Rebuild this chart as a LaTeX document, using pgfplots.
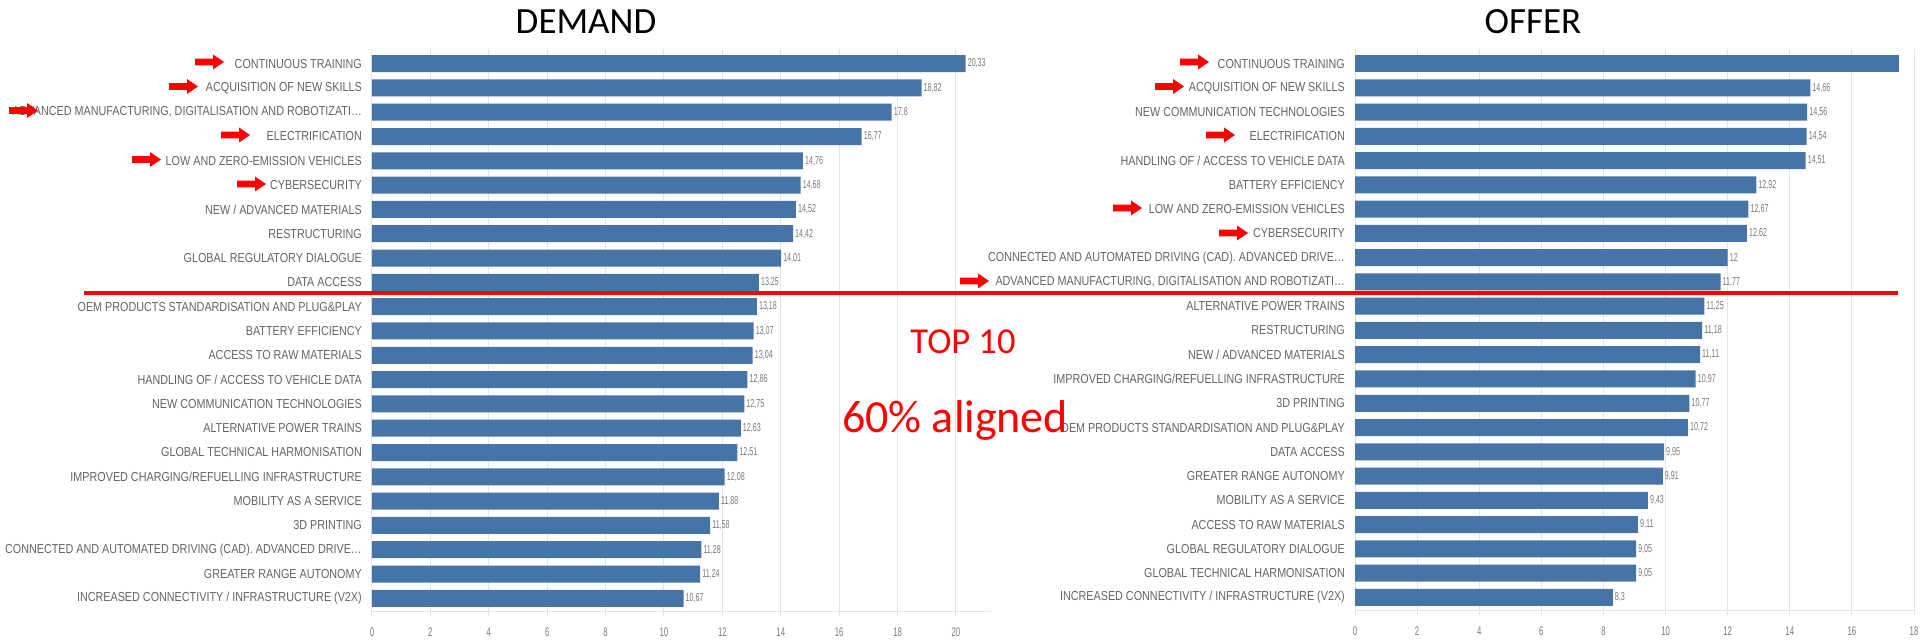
\documentclass[border=0pt]{standalone}
\usepackage{fontspec}
\setmainfont{Liberation Sans}[FakeStretch=0.83]
\newfontfamily\valfont{Liberation Sans}[FakeStretch=0.62]
\newfontfamily\titlefont{Carlito}
\usepackage{pgfplots}
\usepackage{pgfplotstable}
\pgfplotsset{compat=1.18}
\definecolor{barblue}{RGB}{70,116,166}
\definecolor{lblgray}{RGB}{100,100,100}
\definecolor{valgray}{RGB}{120,120,120}
\definecolor{gridgray}{RGB}{228,228,228}
\definecolor{ared}{RGB}{255,0,0}
\newcommand\myell{\char"2026\relax}

\pgfplotstableread{
x y
20.33 0
18.82 1
17.8 2
16.77 3
14.76 4
14.68 5
14.52 6
14.42 7
14.01 8
13.25 9
13.18 10
13.07 11
13.04 12
12.86 13
12.75 14
12.63 15
12.51 16
12.08 17
11.88 18
11.58 19
11.28 20
11.24 21
10.67 22
}\demand

\pgfplotstableread{
x y
14.66 1
14.56 2
14.54 3
14.51 4
12.92 5
12.67 6
12.62 7
12 8
11.77 9
11.25 10
11.18 11
11.11 12
10.97 13
10.77 14
10.72 15
9.95 16
9.91 17
9.43 18
9.11 19
9.05 20
9.05 21
8.3 22
}\offer

\pgfplotsset{mybars/.style={
  scale only axis, anchor=south west,
  xbar, bar width=17pt, bar shift=0pt,
  y dir=reverse, ymin=-0.6, ymax=22.52,
  ytick={0,1,2,3,4,5,6,7,8,9,10,11,12,13,14,15,16,17,18,19,20,21,22},
  axis x line*=bottom, axis y line*=left,
  y axis line style={draw=none},
  x axis line style={draw=gridgray, line width=1pt},
  xmajorgrids, grid style={draw=gridgray, line width=1pt},
  xmin=0,
  tick align=outside,
  ytick style={draw=none},
  xtick style={draw=gridgray, line width=1pt},
  major tick length=5pt,
  yticklabel style={font=\fontsize{13}{15}\selectfont, text=lblgray, inner xsep=0pt, xshift=-5pt},
  xticklabel style={font=\valfont\fontsize{12.5}{14}\selectfont, text=valgray, yshift=-8pt},
  /pgf/number format/assume math mode=true,
  /pgf/number format/use comma,
  point meta=x,
  nodes near coords style={font=\valfont\fontsize{11.5}{13}\selectfont, text=valgray, anchor=west, inner xsep=2pt},
}}

\newcommand\rarr[2]{\fill[ared] ({#1pt-29pt},{#2pt+3.4pt}) -- ({#1pt-11pt},{#2pt+3.4pt}) -- ({#1pt-11pt},{#2pt+7.5pt}) -- ({#1pt},{#2pt}) -- ({#1pt-11pt},{#2pt-7.5pt}) -- ({#1pt-11pt},{#2pt-3.4pt}) -- ({#1pt-29pt},{#2pt-3.4pt}) -- cycle;}

\begin{document}
\begin{tikzpicture}
\path[use as bounding box] (0pt,0pt) rectangle (1930pt,644pt);

\begin{axis}[mybars, at={(372pt,33pt)}, width=619pt, height=562pt, xmax=21.2,
  xtick={0,2,4,6,8,10,12,14,16,18,20},
  yticklabels={{CONTINUOUS TRAINING},{ACQUISITION OF NEW SKILLS},{ADVANCED MANUFACTURING, DIGITALISATION AND ROBOTIZATI\myell},{ELECTRIFICATION},{LOW AND ZERO-EMISSION VEHICLES},{CYBERSECURITY},{NEW / ADVANCED MATERIALS},{RESTRUCTURING},{GLOBAL REGULATORY DIALOGUE},{DATA ACCESS},{OEM PRODUCTS STANDARDISATION AND PLUG\&PLAY},{BATTERY EFFICIENCY},{ACCESS TO RAW MATERIALS},{HANDLING OF / ACCESS TO VEHICLE DATA},{NEW COMMUNICATION TECHNOLOGIES},{ALTERNATIVE POWER TRAINS},{GLOBAL TECHNICAL HARMONISATION},{IMPROVED CHARGING/REFUELLING INFRASTRUCTURE},{MOBILITY AS A SERVICE},{3D PRINTING},{CONNECTED AND AUTOMATED DRIVING (CAD). ADVANCED DRIVE\myell},{GREATER RANGE AUTONOMY},{INCREASED CONNECTIVITY / INFRASTRUCTURE (V2X)}},
]
\addplot[fill=barblue, draw=none, bar shift=0pt, nodes near coords] table[x=x,y=y] {\demand};
\end{axis}

\begin{axis}[mybars, at={(1355pt,34pt)}, width=559pt, height=561pt, xmax=18,
  xtick={0,2,4,6,8,10,12,14,16,18},
  yticklabels={{CONTINUOUS TRAINING},{ACQUISITION OF NEW SKILLS},{NEW COMMUNICATION TECHNOLOGIES},{ELECTRIFICATION},{HANDLING OF / ACCESS TO VEHICLE DATA},{BATTERY EFFICIENCY},{LOW AND ZERO-EMISSION VEHICLES},{CYBERSECURITY},{CONNECTED AND AUTOMATED DRIVING (CAD). ADVANCED DRIVE\myell},{ADVANCED MANUFACTURING, DIGITALISATION AND ROBOTIZATI\myell},{ALTERNATIVE POWER TRAINS},{RESTRUCTURING},{NEW / ADVANCED MATERIALS},{IMPROVED CHARGING/REFUELLING INFRASTRUCTURE},{3D PRINTING},{OEM PRODUCTS STANDARDISATION AND PLUG\&PLAY},{DATA ACCESS},{GREATER RANGE AUTONOMY},{MOBILITY AS A SERVICE},{ACCESS TO RAW MATERIALS},{GLOBAL REGULATORY DIALOGUE},{GLOBAL TECHNICAL HARMONISATION},{INCREASED CONNECTIVITY / INFRASTRUCTURE (V2X)}},
]
\addplot[fill=barblue, draw=none, bar shift=0pt] coordinates {(17.53,0)};
\addplot[fill=barblue, draw=none, bar shift=0pt, nodes near coords] table[x=x,y=y] {\offer};
\end{axis}

\node[font=\titlefont\fontsize{37}{44}\selectfont, anchor=base] at (586pt,610pt) {DEMAND};
\node[font=\titlefont\fontsize{37}{44}\selectfont, anchor=base] at (1533pt,610pt) {OFFER};

\draw[ared, line width=3.5pt] (84pt,351pt) -- (1898pt,351pt);

\node[font=\titlefont\fontsize{36.5}{44}\selectfont, text=ared, anchor=base] at (963pt,290pt) {TOP 10};
\node[font=\titlefont\fontsize{46}{54}\selectfont, text=ared, anchor=base] at (955pt,211pt) {60\% aligned};

\rarr{224}{582}
\rarr{198}{557.5}
\rarr{38}{533.5}
\rarr{250}{509}
\rarr{161}{484.5}
\rarr{266}{460}

\rarr{1209}{582}
\rarr{1184}{557.5}
\rarr{1235}{509}
\rarr{1142}{436}
\rarr{1248}{411}
\rarr{989}{363}
\end{tikzpicture}
\end{document}
